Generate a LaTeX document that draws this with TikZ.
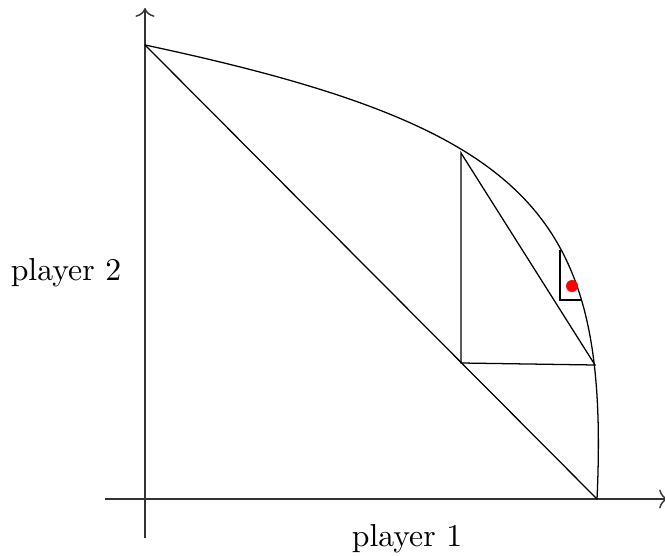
\documentclass[tikz,border=0pt]{standalone}
\usetikzlibrary{arrows.meta}
\begin{document}
\begin{tikzpicture}[x=0.315pt,y=-0.315pt,
  seg/.style={black,line width=0.4pt},
  axis/.style={black!80,line width=0.45pt,-{To[length=2.8pt,width=6pt]}},
  lbl/.style={font=\normalsize,inner sep=0pt}]
\useasboundingbox (0,0) rectangle (665,555);
\clip (0,0) rectangle (665,555);
% axes
\coordinate (ybot) at (145,538);
\coordinate (ytop) at (145,8);
\coordinate (xl) at (105,499);
\coordinate (xr) at (668,499);
\draw[axis] (ybot) -- (ytop);
\draw[axis] (xl) -- (xr);
% key points
\coordinate (A) at (145,45);
\coordinate (B) at (597,499);
\coordinate (C) at (461,153);
\coordinate (D) at (461,363);
\coordinate (E) at (595,365);
\coordinate (F) at (560,250);
\coordinate (G) at (560,300);
\coordinate (H) at (581,300);
% frontier curve
\draw[seg] (A) .. controls (535,128) and (610,215) .. (B);
% lines
\draw[seg] (A) -- (B);
\draw[seg] (C) -- (D) -- (E) -- cycle;
\draw[seg] (F) -- (G) -- (H);
% red point
\fill[red] (572,286) circle[radius=6];
% labels
\node[lbl] (p2) at (66,273) {player 2};
\node[lbl] (p1) at (407,539) {player 1};
\end{tikzpicture}
\end{document}
